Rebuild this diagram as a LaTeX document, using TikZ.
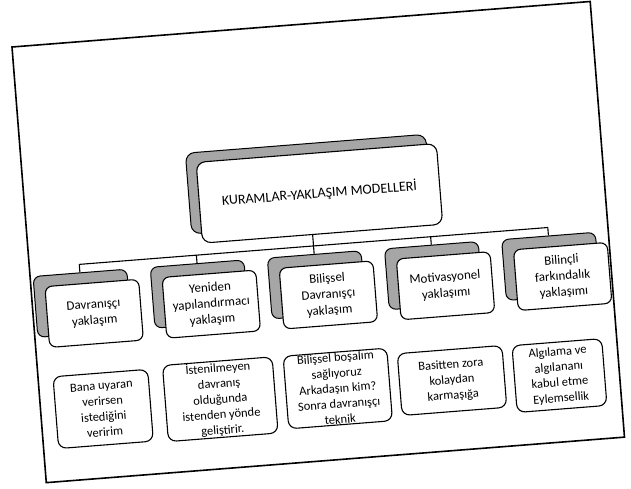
\documentclass[tikz,border=0pt]{standalone}
\usepackage{fontspec}
\setmainfont{Carlito}
\usetikzlibrary{backgrounds}

\tikzset{
  onkutu/.style={draw, line width=1.1pt, fill=white, rounded corners=7pt,
    minimum width=94pt, minimum height=61pt, align=center, inner sep=2pt,
    font=\fontsize{13}{16}\selectfont},
  golge/.style={draw, line width=1pt, fill=black!35, rounded corners=7pt,
    minimum width=94pt, minimum height=61pt},
  altkutu/.style={draw, line width=1.1pt, fill=white, rounded corners=8pt,
    align=center, inner xsep=3pt, inner ysep=1pt,
    font=\fontsize{12.5}{15.5}\selectfont},
  baglanti/.style={line width=1.1pt}
}

\begin{document}
\begin{tikzpicture}[x=1pt,y=-1pt]
    \useasboundingbox (0,0) rectangle (631,488);
    \begin{scope}[shift={(12,47)},rotate=4.5,transform shape]
        % cerceve
        \draw[line width=1.6pt] (0,0) rectangle (580,437);

        % ana kutu
        \node[golge, minimum width=241pt, minimum height=81pt, rounded corners=9pt] (anagolge) at (285,160) {};
        \node[onkutu, minimum width=241pt, minimum height=81pt, rounded corners=9pt,
              font=\fontsize{14}{17}\selectfont] (ana) at (295,170) {KURAMLAR-YAKLAŞIM MODELLERİ};

        % yaklasimlar
        \node[golge] (g1) at (50,261) {};
        \node[golge] (g2) at (167.5,261) {};
        \node[golge] (g3) at (285,261) {};
        \node[golge] (g4) at (402.5,261) {};
        \node[golge] (g5) at (520,261) {};

        \node[onkutu] (y1) at (61,272) {Davranışçı\\yaklaşım};
        \node[onkutu] (y2) at (178.5,272) {Yeniden\\yapılandırmacı\\yaklaşım};
        \node[onkutu] (y3) at (296,272) {Bilişsel\\Davranışçı\\yaklaşım};
        \node[onkutu] (y4) at (413.5,272) {Motivasyonel\\yaklaşımı};
        \node[onkutu] (y5) at (531,272) {Bilinçli\\farkındalık\\yaklaşımı};

        % baglantilar
        \coordinate (d0) at (285,222);
        \coordinate (d1) at (50,222);
        \coordinate (d2) at (167.5,222);
        \coordinate (d3) at (285,222);
        \coordinate (d4) at (402.5,222);
        \coordinate (d5) at (520,222);
        \begin{pgfonlayer}{background}
            \draw[baglanti] (anagolge.south) -- (d0);
            \draw[baglanti] (d1) -- (d5);
            \draw[baglanti] (d1) -- (g1.north);
            \draw[baglanti] (d2) -- (g2.north);
            \draw[baglanti] (d3) -- (g3.north);
            \draw[baglanti] (d4) -- (g4.north);
            \draw[baglanti] (d5) -- (g5.north);
        \end{pgfonlayer}

        % ornekler
        \node[altkutu, minimum width=95pt, minimum height=72pt] (a1) at (62.5,368) {Bana uyaran\\verirsen\\istediğini\\veririm};
        \node[altkutu, minimum width=110pt, minimum height=73pt] (a2) at (180,367.5) {İstenilmeyen\\davranış\\olduğunda\\istenden yönde\\geliştirir.};
        \node[altkutu, minimum width=104pt, minimum height=67pt] (a3) at (298,366) {Bilişsel boşalım\\sağlıyoruz\\Arkadaşın kim?\\Sonra davranışçı\\teknik};
        \node[altkutu, minimum width=105pt, minimum height=62pt] (a4) at (412.5,367) {Basitten zora\\kolaydan\\karmaşığa};
        \node[altkutu, minimum width=90pt, minimum height=67pt] (a5) at (520,370.5) {Algılama ve\\algılananı\\kabul etme\\Eylemsellik};
    \end{scope}
\end{tikzpicture}
\end{document}
